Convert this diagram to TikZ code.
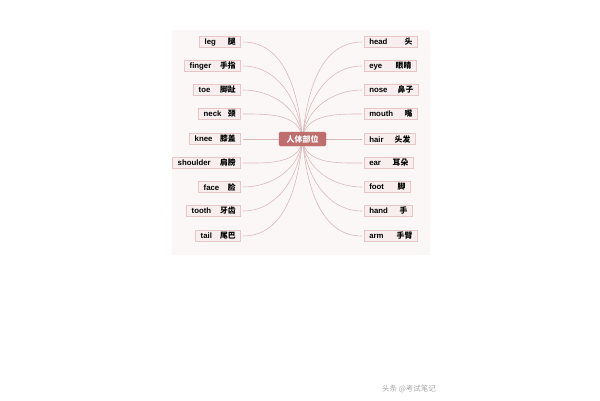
\documentclass[tikz,border=0pt]{standalone}
\usepackage{fontspec}
\setmainfont{Liberation Sans}
\newfontfamily\cjk{Noto Sans CJK SC}
\definecolor{bgc}{HTML}{FBF7F7}
\definecolor{boxfill}{HTML}{F8EEEE}
\definecolor{boxdraw}{HTML}{E6C6C6}
\definecolor{linec}{HTML}{DABABA}
\definecolor{centerc}{HTML}{BF6E6E}
\tikzset{
  part/.style={draw=boxdraw, fill=boxfill, line width=0.6pt, minimum height=11.5pt, inner xsep=5pt, inner ysep=0pt, font=\fontsize{7.8}{8}\selectfont\bfseries},
  hub/.style={draw=centerc, fill=centerc, rounded corners=1.5pt, text=white, minimum width=47pt, minimum height=14pt, inner sep=0pt, font=\fontsize{8}{9}\selectfont\cjk\bfseries},
  link/.style={draw=linec, line width=0.6pt, shorten >=2pt},
}
\newcommand{\pl}[3]{\makebox[#1pt]{#2\hfill{\cjk\bfseries #3}}}
\begin{document}
\begin{tikzpicture}[x=1pt,y=-1pt]
\useasboundingbox (0,0) rectangle (600,400);
\fill[bgc] (172,30) rectangle (430,255);
% left nodes
\node[part, anchor=east] (leg) at (241,42) {\pl{31}{leg}{腿}};
\node[part, anchor=east] (finger) at (241,66) {\pl{46}{finger}{手指}};
\node[part, anchor=east] (toe) at (241,90) {\pl{37}{toe}{脚趾}};
\node[part, anchor=east] (neck) at (241,114) {\pl{32}{neck}{颈}};
\node[part, anchor=east] (knee) at (241,139) {\pl{41}{knee}{膝盖}};
\node[part, anchor=east] (shoulder) at (241,163) {\pl{58}{shoulder}{肩膀}};
\node[part, anchor=east] (face) at (241,187) {\pl{32}{face}{脸}};
\node[part, anchor=east] (tooth) at (241,211) {\pl{44}{tooth}{牙齿}};
\node[part, anchor=east] (tail) at (241,236) {\pl{35}{tail}{尾巴}};
% right nodes
\node[part, anchor=west] (head) at (364,42) {\pl{43}{head}{头}};
\node[part, anchor=west] (eye) at (364,66) {\pl{42}{eye}{眼睛}};
\node[part, anchor=west] (nose) at (364,90) {\pl{44}{nose}{鼻子}};
\node[part, anchor=west] (mouth) at (364,114) {\pl{43}{mouth}{嘴}};
\node[part, anchor=west] (hair) at (364,139) {\pl{41}{hair}{头发}};
\node[part, anchor=west] (ear) at (364,163) {\pl{39}{ear}{耳朵}};
\node[part, anchor=west] (foot) at (364,187) {\pl{36}{foot}{脚}};
\node[part, anchor=west] (hand) at (364,211) {\pl{38}{hand}{手}};
\node[part, anchor=west] (arm) at (364,236) {\pl{43}{arm}{手臂}};
\coordinate (c) at (302.5,139);
% connectors
\foreach \n in {leg,finger,toe,neck}
  \draw[link] (c) to[out=95,in=0] (\n.east);
\draw[link] (c) -- (knee.east);
\foreach \n in {shoulder,face,tooth,tail}
  \draw[link] (c) to[out=-95,in=0] (\n.east);
\foreach \n in {head,eye,nose,mouth}
  \draw[link] (c) to[out=85,in=180] (\n.west);
\draw[link] (c) -- (hair.west);
\foreach \n in {ear,foot,hand,arm}
  \draw[link] (c) to[out=-85,in=180] (\n.west);
\node[hub] (center) at (c) {人体部位};
\node[text=gray!70, font=\fontsize{7.5}{8}\selectfont\cjk] (wm) at (409,389) {头条 @考试笔记};
\end{tikzpicture}
\end{document}
